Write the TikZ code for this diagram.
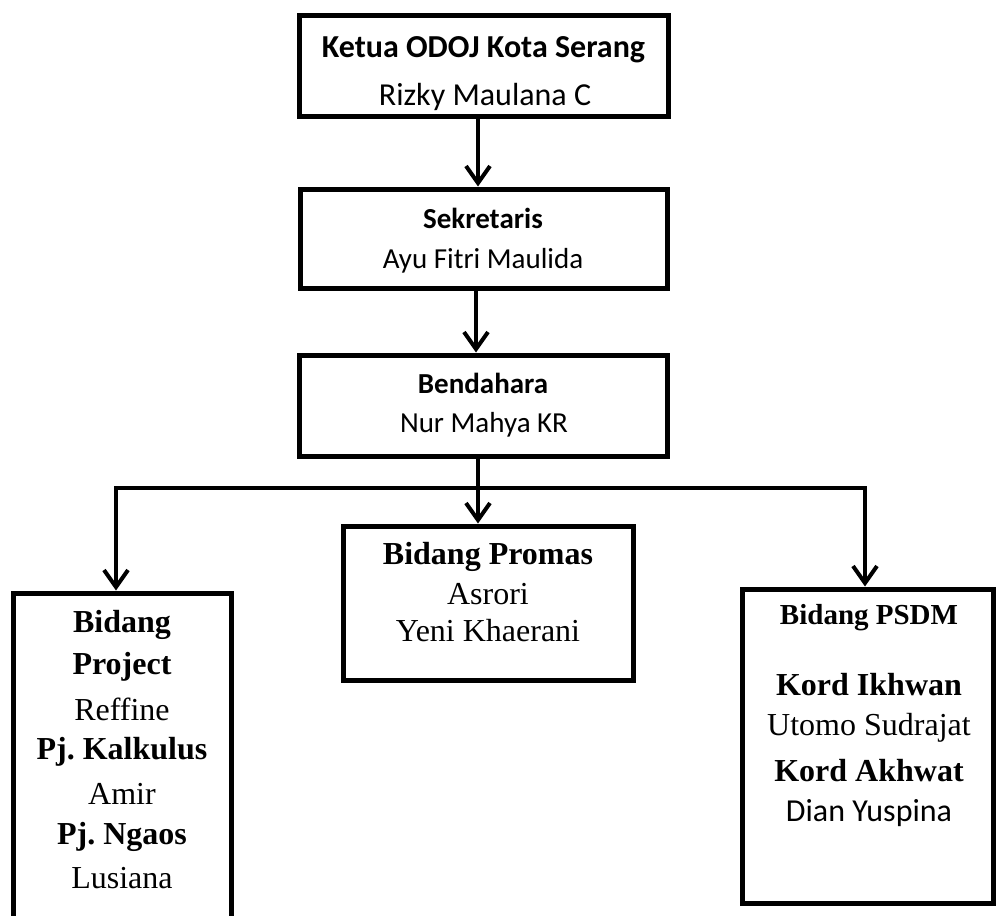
\documentclass[tikz,border=0pt]{standalone}
\usepackage{fontspec}
\newfontfamily\calfont{Carlito}
\newfontfamily\tmsfont{Liberation Serif}
\usetikzlibrary{arrows.meta}
\frenchspacing
\tikzset{
  box/.style={draw, line width=5pt, rectangle, inner sep=0pt},
  conn/.style={line width=4pt},
  arr/.style={line width=4pt, -{Straight Barb[length=17pt, width=24pt, line width=4pt]}},
  txt/.style={inner sep=0pt, anchor=center},
  calb/.style={txt, font=\calfont\bfseries\fontsize{32}{38}\selectfont},
  calr/.style={txt, font=\calfont\fontsize{32}{38}\selectfont},
  calbs/.style={txt, font=\calfont\bfseries\fontsize{29}{34}\selectfont},
  calrs/.style={txt, font=\calfont\fontsize{29}{34}\selectfont},
  tmb/.style={txt, font=\tmsfont\bfseries\fontsize{32}{38}\selectfont},
  tmr/.style={txt, font=\tmsfont\fontsize{32}{38}\selectfont},
  tmbs/.style={txt, font=\tmsfont\bfseries\fontsize{29}{34}\selectfont},
}
\begin{document}
\begin{tikzpicture}[x=1pt,y=-1pt]
\clip (0,0) rectangle (997,916);
\fill[white] (0,0) rectangle (997,916);
% boxes
\node[box, minimum width=369pt, minimum height=101pt] (ketua) at (483.5,65.5) {};
\node[box, minimum width=367pt, minimum height=99pt] (sek) at (483.5,238.5) {};
\node[box, minimum width=368pt, minimum height=101pt] (bend) at (483,405.5) {};
\node[box, minimum width=290pt, minimum height=154pt] (promas) at (488,603) {};
\node[box, minimum width=251pt, minimum height=314pt] (psdm) at (867.5,746) {};
\node[box, minimum width=218pt, minimum height=337pt] (proj) at (122,761.5) {};
% texts
\node[calb] (t1) at (483.5,50) {Ketua ODOJ Kota Serang};
\node[calr] (t2) at (485,97) {Rizky Maulana C};
\node[calbs] (t3) at (483,218) {Sekretaris};
\node[calrs] (t4) at (483,261) {Ayu Fitri Maulida};
\node[calbs] (t5) at (483,383) {Bendahara};
\node[calrs] (t6) at (484,425) {Nur Mahya KR};
\node[tmb] (t7) at (488,557) {Bidang Promas};
\node[tmr] (t8) at (488,594) {Asrori};
\node[tmr] (t9) at (488,631) {Yeni Khaerani};
\node[tmb] (p1) at (122,625) {Bidang};
\node[tmb] (p2) at (122,667) {Project};
\node[tmr] (p3) at (122,709) {Reffine};
\node[tmb] (p4) at (122,752) {Pj. Kalkulus};
\node[tmr] (p5) at (122,794) {Amir};
\node[tmb] (p6) at (122,837) {Pj. Ngaos};
\node[tmr] (p7) at (122,878) {Lusiana};
\node[tmbs] (s1) at (869,618) {Bidang PSDM};
\node[tmb] (s2) at (869,685) {Kord Ikhwan};
\node[tmr] (s3) at (869,728) {Utomo Sudrajat};
\node[tmb] (s4) at (869,771) {Kord Akhwat};
\node[calr] (s5) at (869,813) {Dian Yuspina};
% connectors
\coordinate (hl) at (116,488);
\coordinate (hr) at (865,488);
\coordinate (k1) at (478,118);
\coordinate (k2) at (476,290);
\coordinate (k3) at (478,458);
\draw[arr] (k1) -- (k1 |- sek.north);
\draw[arr] (k2) -- (k2 |- bend.north);
\draw[arr] (k3) -- (k3 |- promas.north);
\draw[conn] ([xshift=-2pt]hl) -- ([xshift=2pt]hr);
\draw[arr] (hl) -- (hl |- proj.north);
\draw[arr] (hr) -- (hr |- psdm.north);
\end{tikzpicture}
\end{document}
